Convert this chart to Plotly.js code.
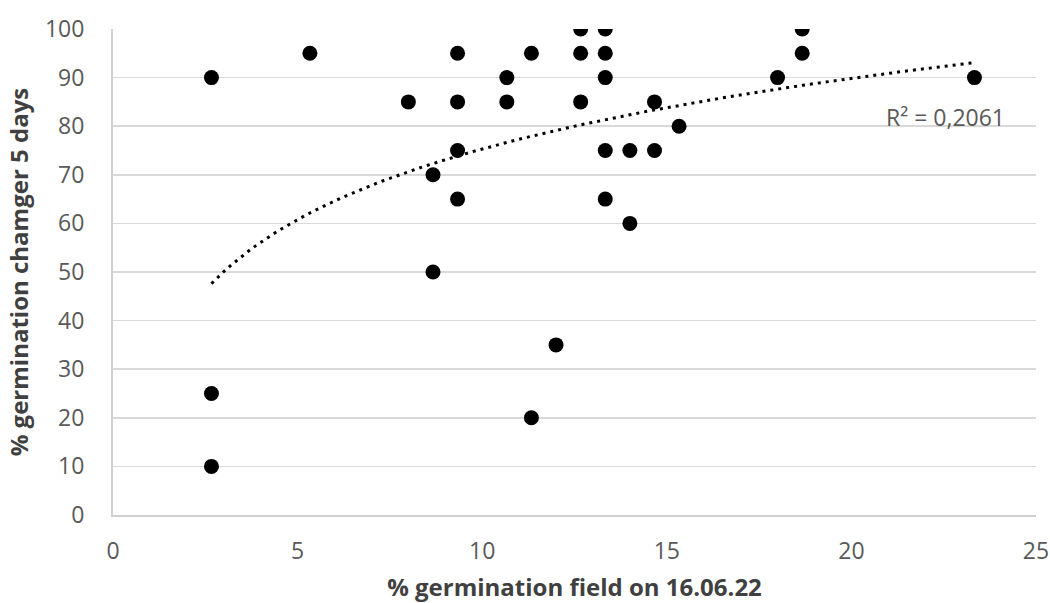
<!DOCTYPE html>
<html>
<head>
<meta charset="utf-8">
<script src="https://cdn.plot.ly/plotly-3.0.1.min.js"></script>
<style>
  html, body { margin: 0; padding: 0; background: #fff; }
  #chart { width: 1050px; height: 603px; }
</style>
</head>
<body>
<div id="chart"></div>
<script>
// Field germination (%) on 16.06.22 vs germination in the chamber after 5 days (%)
const fieldGermination = [
  2.667, 2.667, 2.667, 5.333, 8, 8.667, 8.667,
  9.333, 9.333, 9.333, 9.333, 10.667, 10.667,
  11.333, 11.333, 12, 12.667, 12.667, 12.667,
  13.333, 13.333, 13.333, 13.333, 13.333,
  14, 14, 14.667, 14.667, 15.333, 18, 18.667, 18.667, 23.333
];
const chamberGermination = [
  90, 25, 10, 95, 85, 70, 50,
  95, 85, 75, 65, 90, 85,
  95, 20, 35, 100, 95, 85,
  100, 95, 90, 75, 65,
  75, 60, 85, 75, 80, 90, 100, 95, 90
];
const xTicks = [0, 5, 10, 15, 20, 25];
const yTicks = [0, 10, 20, 30, 40, 50, 60, 70, 80, 90, 100];
const rSquaredLabel = 'R² = 0,2061';

// Logarithmic trendline y = a*ln(x) + b, least squares on ln(x)
function logFit(xs, ys) {
  const lx = xs.map(Math.log);
  const n = xs.length;
  const mx = lx.reduce((s, v) => s + v, 0) / n;
  const my = ys.reduce((s, v) => s + v, 0) / n;
  let sxy = 0, sxx = 0;
  for (let i = 0; i < n; i++) {
    sxy += (lx[i] - mx) * (ys[i] - my);
    sxx += (lx[i] - mx) * (lx[i] - mx);
  }
  const a = sxy / sxx;
  return { a: a, b: my - a * mx };
}
const fit = logFit(fieldGermination, chamberGermination);
const xMin = Math.min(...fieldGermination);
const xMax = Math.max(...fieldGermination);
const trendX = [], trendY = [];
const steps = 120;
for (let i = 0; i <= steps; i++) {
  const x = xMin + (xMax - xMin) * i / steps;
  trendX.push(x);
  trendY.push(fit.a * Math.log(x) + fit.b);
}

const traces = [
  {
    x: trendX, y: trendY, type: 'scatter', mode: 'lines',
    line: { color: '#000000', width: 3, dash: '3px,5px' },
    hoverinfo: 'skip', showlegend: false
  },
  {
    x: fieldGermination, y: chamberGermination, type: 'scatter', mode: 'markers',
    marker: { color: '#000000', size: 15, line: { width: 0 } },
    showlegend: false
  }
];

const tickFont = { family: 'Open Sans, sans-serif', size: 23, color: '#595959' };
const titleFont = { family: 'Open Sans, sans-serif', size: 24, color: '#404040', weight: 'bold' };

const layout = {
  width: 1050, height: 603,
  margin: { l: 113, r: 14, t: 29, b: 88 },
  paper_bgcolor: '#ffffff', plot_bgcolor: '#ffffff',
  showlegend: false,
  xaxis: {
    range: [0, 25], tickvals: xTicks, ticktext: xTicks.map(String),
    showgrid: false, zeroline: false,
    showline: true, linecolor: '#d0d0d0', linewidth: 2,
    ticks: '', tickfont: tickFont, ticklabelstandoff: 14,
    title: { text: '<b>% germination field on 16.06.22</b>', font: titleFont, standoff: 16 }
  },
  yaxis: {
    range: [0, 100], tickvals: yTicks, ticktext: yTicks.map(String),
    showgrid: true, gridcolor: '#d9d9d9', gridwidth: 1.5,
    zeroline: false,
    showline: true, linecolor: '#d0d0d0', linewidth: 2,
    ticks: '', tickfont: tickFont, ticklabelstandoff: 22,
    title: { text: '<b>% germination chamger 5 days</b>', font: titleFont, standoff: 10 }
  },
  annotations: [{
    x: 22.56, y: 81.9, xref: 'x', yref: 'y',
    text: rSquaredLabel, showarrow: false,
    font: { family: 'Open Sans, sans-serif', size: 23, color: '#595959' }
  }]
};

Plotly.newPlot('chart', traces, layout, { staticPlot: true, displayModeBar: false });
</script>
</body>
</html>
